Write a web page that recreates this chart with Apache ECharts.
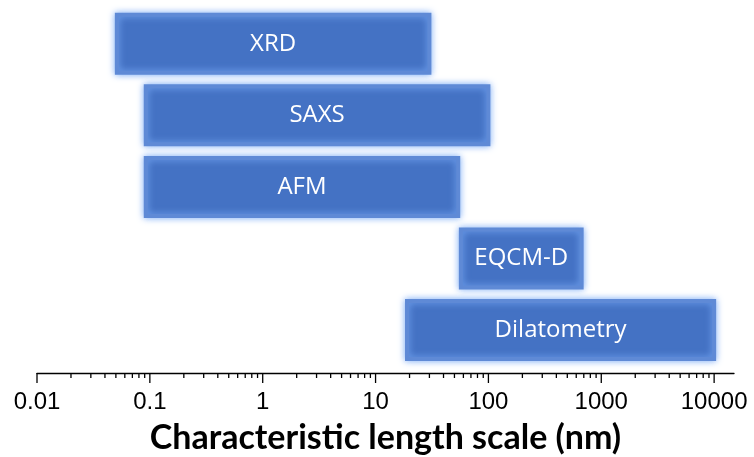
<!DOCTYPE html>
<html><head><meta charset="utf-8">
<script src="https://cdn.jsdelivr.net/npm/echarts@6/dist/echarts.min.js"></script>
<style>html,body{margin:0;padding:0;background:#fff}#c{width:754px;height:457px}</style>
</head><body><div id="c"></div>
<script>
const methods = ['XRD', 'SAXS', 'AFM', 'EQCM-D', 'Dilatometry'];
const rangeMin = [0.051, 0.092, 0.092, 57, 19];
const rangeMax = [30, 100, 54, 670, 10000];
const tickLabels = [0.01, 0.1, 1, 10, 100, 1000, 10000];
const minorMultipliers = [2, 3, 4, 5, 6, 7, 8, 9];

const barData = methods.map((m, i) => [rangeMin[i], rangeMax[i], i, m]);
const tickData = [];
tickLabels.forEach(d => {
  tickData.push([d, 1]);
  if (d < 10000) minorMultipliers.forEach(k => tickData.push([+(d * k).toPrecision(3), 0]));
});

const chart = echarts.init(document.getElementById('c'));
chart.setOption({
  animation: false,
  grid: { left: 37, right: 20, top: 8, bottom: 84, outerBoundsMode: 'none', containLabel: false },
  xAxis: {
    type: 'log', logBase: 10, min: 0.01, max: 15000,
    axisLine: { onZero: false, lineStyle: { color: '#000', width: 1.3 } },
    axisTick: { show: false },
    splitLine: { show: false },
    axisLabel: {
      margin: 17, color: '#000', fontFamily: 'Liberation Sans', fontSize: 24,
      formatter: v => tickLabels.some(t => Math.abs(t - v) / t < 1e-6) ? String(v) : '',
      showMaxLabel: false
    },
    name: 'Characteristic length scale (nm)',
    nameLocation: 'middle', nameGap: 48,
    nameTextStyle: { color: '#000', fontFamily: 'Lato', fontWeight: 'bold', fontSize: 34 }
  },
  yAxis: { type: 'value', inverse: true, min: -0.5, max: 4.6, show: false },
  series: [
    {
      type: 'custom',
      data: barData,
      encode: { x: [0, 1], y: 2 },
      renderItem: (params, api) => {
        const s = api.coord([api.value(0), api.value(2)]);
        const e = api.coord([api.value(1), api.value(2)]);
        const h = api.size([0, 0.81])[1];
        return {
          type: 'rect',
          shape: { x: s[0], y: s[1] - h / 2, width: e[0] - s[0], height: h },
          style: {
            fill: '#4472C4', stroke: '#5f8ad6', lineWidth: 4,
            shadowBlur: 7, shadowColor: 'rgba(120,170,245,0.95)'
          },
          textContent: {
            style: {
              text: methods[params.dataIndex], fill: '#fff',
              font: '24px "Open Sans"'
            }
          },
          textConfig: { position: 'inside' }
        };
      }
    },
    {
      type: 'custom',
      data: tickData,
      encode: { x: 0 },
      silent: true,
      renderItem: (params, api) => {
        const p = api.coord([api.value(0), 4.6]);
        const len = api.value(1) ? 10 : 5;
        return {
          type: 'line',
          shape: { x1: p[0], y1: p[1], x2: p[0], y2: p[1] + len },
          style: { stroke: '#000', lineWidth: 1.3 }
        };
      }
    }
  ]
});
</script></body></html>
